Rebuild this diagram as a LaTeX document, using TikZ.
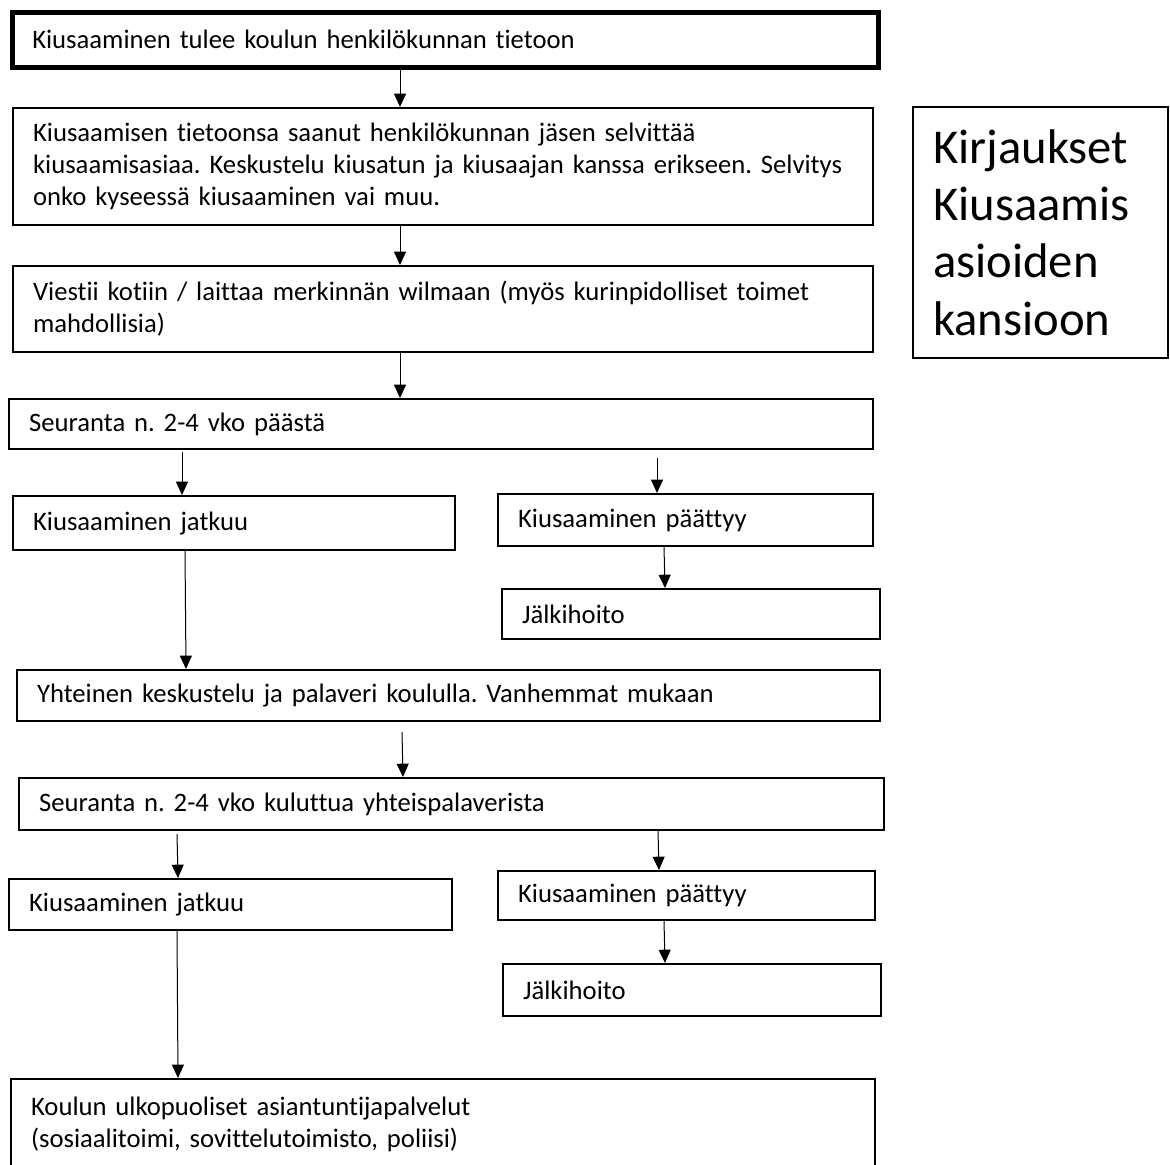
\documentclass[tikz,border=0pt]{standalone}
\usepackage{fontspec}
\setmainfont[Ligatures=NoCommon]{Carlito}
\usetikzlibrary{arrows.meta}
\tikzset{
  box/.style={draw=black, line width=1.6pt, anchor=north west, inner xsep=15pt, inner ysep=0pt, align=left,
     font=\fontsize{20}{24}\selectfont},
  thickbox/.style={box, line width=3.4pt},
  arr/.style={draw=black, line width=0.75pt, -{Triangle[length=10pt,width=9pt]}},
}
\begin{document}
\frenchspacing
\begin{tikzpicture}[x=0.75pt,y=-0.75pt]
\clip (0,0) rectangle (1170,1164);
\useasboundingbox (0,0) rectangle (1170,1164);
% main column
\node[thickbox, minimum width=649.5pt, minimum height=41.25pt, text width=619.5pt] (b1) at (10,10)
  {Kiusaaminen tulee koulun henkilökunnan tietoon};
\node[box, minimum width=645pt, minimum height=87.75pt, text width=615pt] (b2) at (12,107)
  {Kiusaamisen tietoonsa saanut henkilökunnan jäsen selvittää\\kiusaamisasiaa. Keskustelu kiusatun ja kiusaajan kanssa erikseen. Selvitys\\onko kyseessä kiusaaminen vai muu.};
\node[box, minimum width=645pt, minimum height=64.5pt, text width=615pt] (b3) at (12,265)
  {Viestii kotiin / laittaa merkinnän wilmaan (myös kurinpidolliset toimet\\mahdollisia)};
\node[box, minimum width=648pt, minimum height=37.5pt, text width=618pt] (b4) at (8,398)
  {Seuranta n. 2-4 vko päästä};
\node[box, minimum width=331.5pt, minimum height=40.5pt, text width=301.5pt] (b5) at (12,495)
  {Kiusaaminen jatkuu};
\node[box, minimum width=281.25pt, minimum height=39pt, text width=251.25pt] (b6) at (497,493)
  {Kiusaaminen päättyy};
\node[box, minimum width=283.5pt, minimum height=37.5pt, text width=253.5pt] (b7) at (501,588)
  {Jälkihoito};
\node[box, minimum width=647.25pt, minimum height=38.25pt, text width=617.25pt] (b8) at (16,669)
  {Yhteinen keskustelu ja palaveri koululla. Vanhemmat mukaan};
\node[box, minimum width=648.75pt, minimum height=39pt, text width=618.75pt] (b9) at (18,777)
  {Seuranta n. 2-4 vko kuluttua yhteispalaverista};
\node[box, minimum width=332.25pt, minimum height=38.25pt, text width=302.25pt] (b10) at (8,878)
  {Kiusaaminen jatkuu};
\node[box, minimum width=282.75pt, minimum height=36.75pt, text width=252.75pt] (b11) at (497,870)
  {Kiusaaminen päättyy};
\node[box, minimum width=283.5pt, minimum height=39pt, text width=253.5pt] (b12) at (502,963)
  {Jälkihoito};
\node[box, minimum width=648pt, minimum height=67.5pt, text width=618pt] (b13) at (10,1078)
  {Koulun ulkopuoliset asiantuntijapalvelut\\(sosiaalitoimi, sovittelutoimisto, poliisi)};
% side box
\node[box, minimum width=191.25pt, minimum height=188.25pt, text width=161.25pt,
      font=\fontsize{36.5}{43}\selectfont] (side) at (912,106)
  {Kirjaukset\\Kiusaamis\\asioiden\\kansioon};
% connectors
\draw[arr] (b1.south -| 400,0) -- (b2.north -| 400,0);
\draw[arr] (b2.south -| 400,0) -- (b3.north -| 400,0);
\draw[arr] (b3.south -| 400,0) -- (b4.north -| 400,0);
\draw[arr] ([yshift=-1.5pt]b4.south -| 182,0) -- (b5.north -| 182,0);
\draw[arr] ([yshift=-6pt]b4.south -| 657,0) -- (b6.north -| 657,0);
\draw[arr] (b6.south -| 664,0) -- (b7.north -| 665,0);
\draw[arr] (b5.south -| 185,0) -- (b8.north -| 186,0);
\draw[arr] ([yshift=-7.5pt]b8.south -| 402,0) -- (b9.north -| 403,0);
\draw[arr] ([yshift=-2pt]b9.south -| 177,0) -- (b10.north -| 178,0);
\draw[arr] (b9.south -| 658,0) -- (b11.north -| 659,0);
\draw[arr] (b11.south -| 664,0) -- (b12.north -| 665,0);
\draw[arr] (b10.south -| 177,0) -- (b13.north -| 178,0);
\end{tikzpicture}
\end{document}
